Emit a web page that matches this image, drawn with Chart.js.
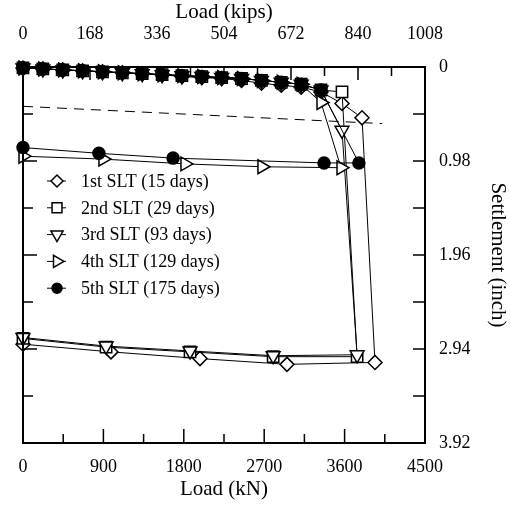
<!DOCTYPE html>
<html><head><meta charset="utf-8">
<script src="https://cdn.jsdelivr.net/npm/chart.js@4/dist/chart.umd.min.js"></script>
<style>html,body{margin:0;padding:0;background:#fff}</style>
</head><body>
<canvas id="c" width="510" height="509"></canvas>
<script>
// ---------- data ----------
const kNTicks = [0, 900, 1800, 2700, 3600, 4500];
const kipsTicks = [0, 168, 336, 504, 672, 840, 1008];
const settleTicks = [0, 0.98, 1.96, 2.94, 3.92];

const seriesNames = ['1st SLT (15 days)', '2nd SLT (29 days)', '3rd SLT (93 days)', '4th SLT (129 days)', '5th SLT (175 days)'];

const slt1Load   = [0,222,445,667,890,1112,1334,1557,1779,2002,2224,2446,2669,2891,3114,3336,3571,3795,3940,2955,1981,985,0];
const slt1Settle = [0.01,0.02,0.03,0.04,0.05,0.06,0.07,0.08,0.10,0.11,0.12,0.14,0.17,0.19,0.21,0.26,0.38,0.53,3.08,3.10,3.04,2.97,2.89];

const slt2Load   = [0,222,445,667,890,1112,1334,1557,1779,2002,2224,2446,2669,2891,3114,3336,3571,3740,2800,1870,930,0];
const slt2Settle = [0.01,0.02,0.03,0.04,0.05,0.06,0.07,0.08,0.09,0.10,0.11,0.12,0.14,0.16,0.18,0.24,0.26,3.02,3.02,2.97,2.92,2.83];

const slt3Load   = [0,222,445,667,890,1112,1334,1557,1779,2002,2224,2446,2669,2891,3114,3336,3571,3740,2800,1870,930,0];
const slt3Settle = [0.01,0.02,0.03,0.04,0.05,0.06,0.07,0.08,0.09,0.10,0.11,0.12,0.14,0.16,0.18,0.24,0.66,3.00,3.01,2.96,2.91,2.82];

const slt4Load   = [0,222,445,667,890,1112,1334,1557,1779,2002,2224,2446,2669,2891,3114,3336,3560,2675,1813,895,0];
const slt4Settle = [0.01,0.02,0.03,0.04,0.05,0.06,0.07,0.08,0.09,0.10,0.11,0.12,0.14,0.16,0.18,0.37,1.05,1.04,1.01,0.96,0.93];

const slt5Load   = [0,222,445,667,890,1112,1334,1557,1779,2002,2224,2446,2669,2891,3114,3336,3760,3370,1680,850,0];
const slt5Settle = [0.01,0.02,0.03,0.04,0.05,0.06,0.07,0.08,0.09,0.10,0.11,0.12,0.14,0.16,0.18,0.24,1.00,1.00,0.95,0.90,0.84];

const dashLoad   = [0, 4020];
const dashSettle = [0.41, 0.59];

// ---------- build ----------
const FONT = "'Liberation Serif', 'Times New Roman', serif";
const pts = (xs, ys) => xs.map((x, i) => ({x: x, y: ys[i]}));
const styles = [
  {pointStyle: 'rectRot', radius: 7, rotation: 0, bg: '#fff'},
  {pointStyle: 'rect', radius: 8, rotation: 0, bg: '#fff'},
  {pointStyle: 'triangle', radius: 8, rotation: 180, bg: '#fff'},
  {pointStyle: 'triangle', radius: 8, rotation: 90, bg: '#fff'},
  {pointStyle: 'circle', radius: 6, rotation: 0, bg: '#000'}
];
const loads = [slt1Load, slt2Load, slt3Load, slt4Load, slt5Load];
const settles = [slt1Settle, slt2Settle, slt3Settle, slt4Settle, slt5Settle];

const datasets = seriesNames.map((name, i) => ({
  label: name,
  data: pts(loads[i], settles[i]),
  xAxisID: 'x', yAxisID: 'y',
  order: 4 - i,
  borderColor: '#000', borderWidth: 1,
  pointStyle: styles[i].pointStyle,
  pointRadius: styles[i].radius,
  pointRotation: styles[i].rotation,
  pointBackgroundColor: styles[i].bg,
  pointBorderColor: '#000',
  pointBorderWidth: 1.5,
  tension: 0, clip: false, showLine: true
}));
datasets.push({
  label: 'limit',
  data: pts(dashLoad, dashSettle),
  xAxisID: 'x', yAxisID: 'y',
  order: 10,
  borderColor: '#000', borderWidth: 1, borderDash: [10, 7],
  pointRadius: 0, tension: 0, clip: false, showLine: true
});

const framePlugin = {
  id: 'frame',
  afterDraw(chart) {
    const ctx = chart.ctx, a = chart.chartArea;
    const sx = chart.scales.x, sx2 = chart.scales.x2, sy = chart.scales.y;
    ctx.save();
    ctx.strokeStyle = '#000';
    ctx.lineWidth = 2;
    ctx.strokeRect(a.left, a.top, a.right - a.left, a.bottom - a.top);
    ctx.lineWidth = 1.5;
    ctx.beginPath();
    for (let i = 0; i < kNTicks.length; i++) {
      const v = kNTicks[i], px = sx.getPixelForValue(v);
      ctx.moveTo(px, a.bottom); ctx.lineTo(px, a.bottom - 14);
      if (i < kNTicks.length - 1) {
        const m = sx.getPixelForValue((v + kNTicks[i + 1]) / 2);
        ctx.moveTo(m, a.bottom); ctx.lineTo(m, a.bottom - 9);
      }
    }
    for (let i = 0; i < kipsTicks.length; i++) {
      const v = kipsTicks[i], px = sx2.getPixelForValue(v);
      ctx.moveTo(px, a.top); ctx.lineTo(px, a.top + 13);
      if (i < kipsTicks.length - 1) {
        const m = sx2.getPixelForValue((v + kipsTicks[i + 1]) / 2);
        ctx.moveTo(m, a.top); ctx.lineTo(m, a.top + 9);
      }
    }
    for (let i = 0; i < settleTicks.length; i++) {
      const v = settleTicks[i], py = sy.getPixelForValue(v);
      ctx.moveTo(a.left, py); ctx.lineTo(a.left + 14, py);
      ctx.moveTo(a.right, py); ctx.lineTo(a.right - 12, py);
      if (i < settleTicks.length - 1) {
        const m = sy.getPixelForValue((v + settleTicks[i + 1]) / 2);
        ctx.moveTo(a.left, m); ctx.lineTo(a.left + 10, m);
        ctx.moveTo(a.right, m); ctx.lineTo(a.right - 12, m);
      }
    }
    ctx.stroke();

    // legend
    const lx0 = 47, lx1 = 66, mx = 57, tx = 81, ty0 = 181, dy = 26.8;
    ctx.font = '18px ' + FONT;
    ctx.textBaseline = 'middle';
    ctx.textAlign = 'left';
    for (let i = 0; i < seriesNames.length; i++) {
      const y = ty0 + i * dy;
      ctx.lineWidth = 1;
      ctx.strokeStyle = '#000';
      ctx.beginPath(); ctx.moveTo(lx0, y); ctx.lineTo(lx1, y); ctx.stroke();
      ctx.fillStyle = styles[i].bg;
      ctx.lineWidth = 1.5;
      Chart.helpers.drawPoint(ctx, {pointStyle: styles[i].pointStyle, radius: styles[i].radius - 1, rotation: styles[i].rotation, borderWidth: 1.5}, mx, y);
      ctx.fillStyle = '#000';
      ctx.fillText(seriesNames[i], tx, y + 1);
    }
    ctx.restore();
  }
};

const tickFont = {family: FONT, size: 18};
const titleFont = {family: FONT, size: 21};
const plain = v => String(v);

new Chart(document.getElementById('c'), {
  type: 'line',
  data: {datasets: datasets},
  options: {
    responsive: false,
    animation: false,
    devicePixelRatio: 1,
    layout: {padding: {left: 23, right: 0, top: 0, bottom: 0}},
    plugins: {legend: {display: false}, tooltip: {enabled: false}},
    scales: {
      x: {
        type: 'linear', position: 'bottom', min: 0, max: 4500,
        afterBuildTicks: s => { s.ticks = kNTicks.map(v => ({value: v})); },
        afterFit: s => { s.height = 66; s.paddingLeft = 0; },
        ticks: {font: tickFont, color: '#000', padding: 13, maxRotation: 0, callback: plain},
        grid: {display: false, drawTicks: false},
        border: {display: false},
        title: {display: true, text: 'Load (kN)', font: titleFont, color: '#000', padding: {top: 0, bottom: 7}}
      },
      x2: {
        type: 'linear', position: 'top', min: 0, max: 1008,
        afterBuildTicks: s => { s.ticks = kipsTicks.map(v => ({value: v})); },
        afterFit: s => { s.height = 67; s.paddingLeft = 0; },
        ticks: {font: tickFont, color: '#000', padding: 22, maxRotation: 0, callback: plain},
        grid: {display: false, drawTicks: false},
        border: {display: false},
        title: {display: true, text: 'Load (kips)', font: titleFont, color: '#000', padding: {top: 0, bottom: 0}}
      },
      y: {
        type: 'linear', position: 'right', reverse: true, min: 0, max: 3.92,
        afterBuildTicks: s => { s.ticks = settleTicks.map(v => ({value: v})); },
        afterFit: s => { s.width = 85; },
        ticks: {font: tickFont, color: '#000', padding: 14, callback: plain},
        grid: {display: false, drawTicks: false},
        border: {display: false},
        title: {display: true, text: 'Settlement (inch)', font: titleFont, color: '#000', padding: {top: 0, bottom: 3}}
      }
    }
  },
  plugins: [framePlugin]
});
</script>
</body></html>
